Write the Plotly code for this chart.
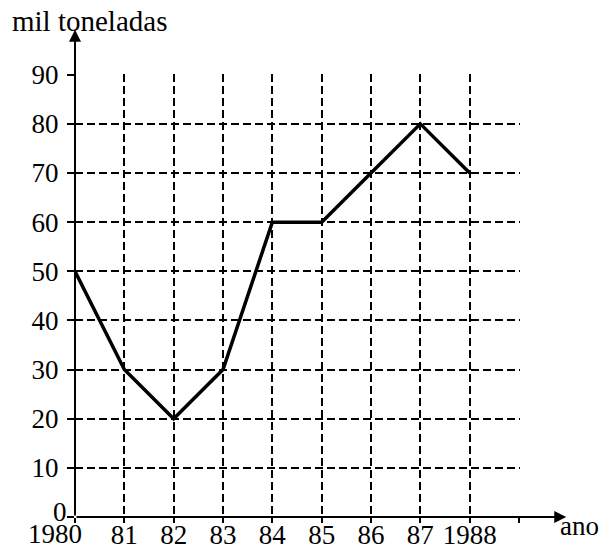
import plotly.graph_objects as go

# Production by year (thousand tonnes)
years = [1980, 1981, 1982, 1983, 1984, 1985, 1986, 1987, 1988]
tonnes = [50, 30, 20, 30, 60, 60, 70, 80, 70]

x_ticks = [1980, 1981, 1982, 1983, 1984, 1985, 1986, 1987, 1988, 1989]
x_labels = ["", "81", "82", "83", "84", "85", "86", "87", "1988", ""]
y_ticks = [0, 10, 20, 30, 40, 50, 60, 70, 80, 90]
y_labels = ["", "10", "20", "30", "40", "50", "60", "70", "80", "90"]

FONT = "Liberation Serif"
FS = 27

fig = go.Figure()
fig.add_trace(go.Scatter(
    x=years, y=tonnes, mode="lines",
    line=dict(color="black", width=3.5),
    hoverinfo="skip",
))

axis_common = dict(
    showgrid=True, gridcolor="black", gridwidth=2, griddash="8px,4px",
    ticks="outside", tickcolor="black", tickwidth=2,
    showline=False, zeroline=False, automargin=False,
    tickfont=dict(family=FONT, size=FS, color="black"),
)

fig.update_layout(
    width=610, height=547,
    margin=dict(l=75, r=90, t=74, b=30, autoexpand=False),
    paper_bgcolor="white", plot_bgcolor="white",
    showlegend=False,
    xaxis=dict(range=[1980, 1989.02], tickvals=x_ticks, ticktext=x_labels,
               ticklen=5, ticklabelstandoff=-11, **axis_common),
    yaxis=dict(range=[0, 90.15], tickvals=y_ticks, ticktext=y_labels,
               ticklen=7, ticklabelstandoff=3, **axis_common),
)

# Axis lines with arrowheads
fig.add_annotation(x=1.104, y=0, ax=0, ay=0,
                   xref="x domain", yref="y domain",
                   axref="x domain", ayref="y domain",
                   text="", showarrow=True, arrowhead=2,
                   arrowwidth=2, arrowsize=1.2, arrowcolor="black")
fig.add_annotation(x=0, y=1.1, ax=0, ay=0,
                   xref="x domain", yref="y domain",
                   axref="x domain", ayref="y domain",
                   text="", showarrow=True, arrowhead=2,
                   arrowwidth=2, arrowsize=1.2, arrowcolor="black")

txt = dict(family=FONT, size=FS, color="black")
fig.add_annotation(x=years[0], y=0, xref="x", yref="y", text=str(years[0]),
                   showarrow=False, xanchor="right", yanchor="top",
                   xshift=9, yshift=0, font=txt)
fig.add_annotation(x=years[0], y=0, xref="x", yref="y", text="0",
                   showarrow=False, xanchor="right", yanchor="bottom",
                   xshift=-6, yshift=-12, font=txt)
fig.add_annotation(x=1.085, y=0, xref="x domain", yref="y", text="ano",
                   showarrow=False, xanchor="left", yanchor="top",
                   yshift=8, font=txt)
fig.add_annotation(x=-0.145, y=1.16, xref="paper", yref="paper",
                   text="mil toneladas",
                   showarrow=False, xanchor="left", yanchor="top",
                   font=dict(family=FONT, size=29, color="black"))

fig.write_html("out.html")
